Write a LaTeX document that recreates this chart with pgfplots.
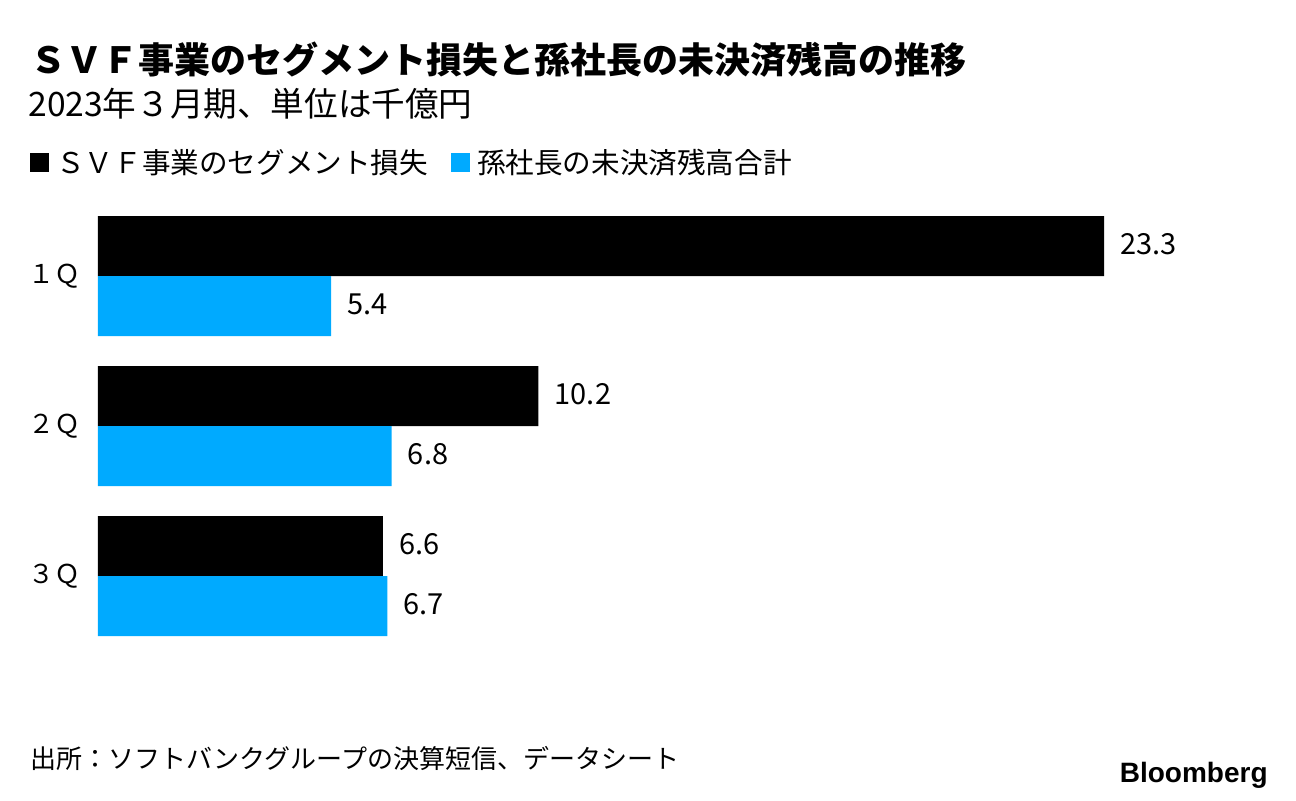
\documentclass[border=0pt]{standalone}
\usepackage{pgfplots}
\pgfplotsset{compat=1.18}
\usepackage{fontspec}
\setmainfont{Noto Sans CJK JP}
\newfontfamily\bbg{Liberation Sans}
\definecolor{svfblack}{RGB}{0,0,0}
\definecolor{sonblue}{RGB}{0,170,255}

\begin{document}
\begin{tikzpicture}
% 1 px of the reference = 0.5pt; origin at the bottom-left corner
\useasboundingbox (0pt,0pt) rectangle (648pt,400pt);

% titles
\node[anchor=base west,inner sep=0pt,font=\fontsize{18pt}{21pt}\selectfont\bfseries] at (15pt,363pt)
  {ＳＶＦ事業のセグメント損失と孫社長の未決済残高の推移};
\node[anchor=base west,inner sep=0pt,font=\fontsize{16.8pt}{19pt}\selectfont] at (14pt,341.5pt)
  {2023年３月期、単位は千億円};

\begin{axis}[
  at={(49pt,74.5pt)}, anchor=south west,
  scale only axis, width=503pt, height=225pt,
  xbar, bar width=30pt,
  xmin=0, xmax=23.3, ymin=-0.5, ymax=2.5,
  axis line style={draw=none}, tick style={draw=none},
  xtick=\empty,
  ytick={0,1,2}, yticklabels={３Ｑ,２Ｑ,１Ｑ},
  yticklabel style={font=\fontsize{13pt}{15pt}\selectfont, anchor=east, inner sep=0pt, xshift=-4.5pt},
  clip=false,
  nodes near coords,
  every node near coord/.append style={font=\fontsize{14.5pt}{16pt}\selectfont, anchor=west, inner sep=0pt, xshift=8pt, yshift=1pt,
    /pgf/number format/assume math mode=true, /pgf/number format/fixed, /pgf/number format/precision=1, /pgf/number format/fixed zerofill},
  legend columns=2,
  legend image code/.code={\fill[#1,draw=none] (0pt,-4.5pt) rectangle (9.5pt,5pt);},
  legend style={at={(-0.0676,1.084)}, anchor=west, draw=none, fill=none, inner sep=0pt,
    font=\fontsize{14.3pt}{16pt}\selectfont,
    nodes={inner xsep=3.5pt},
    /tikz/every even column/.append style={column sep=8pt}},
  legend cell align=left,
]
\addplot[fill=svfblack, draw=none, bar shift=15pt] coordinates {(23.3,2) (10.2,1) (6.6,0)};
\addplot[fill=sonblue, draw=none, bar shift=-15pt] coordinates {(5.4,2) (6.8,1) (6.7,0)};
\legend{ＳＶＦ事業のセグメント損失, 孫社長の未決済残高合計}
\end{axis}

% source and logo
\node[anchor=base west,inner sep=0pt,font=\fontsize{13pt}{15pt}\selectfont] at (15pt,16pt)
  {出所：ソフトバンクグループの決算短信、データシート};
\node[anchor=base east,inner sep=0pt,font=\fontsize{14pt}{16pt}\selectfont\bbg\bfseries] at (634pt,9pt)
  {Bloomberg};
\end{tikzpicture}
\end{document}
